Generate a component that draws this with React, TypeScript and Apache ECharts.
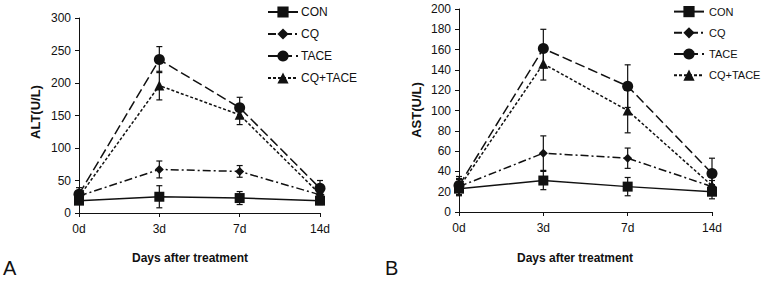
import React, { useEffect, useRef } from "react";
import * as echarts from "echarts";

const days = ["0d", "3d", "7d", "14d"];
const groups = ["CON", "CQ", "TACE", "CQ+TACE"];

const altCON = [19, 25, 23, 19];
const altCONErr = [5, 17, 10, 6];
const altCQ = [26, 67, 64, 28];
const altCQErr = [8, 13, 9, 6];
const altTACE = [29, 236, 162, 38];
const altTACEErr = [10, 20, 16, 12];
const altCQTACE = [25, 196, 151, 29];
const altCQTACEErr = [9, 22, 15, 8];

const astCON = [23, 31, 25, 20];
const astCONErr = [6, 9, 9, 7];
const astCQ = [25, 58, 53, 25];
const astCQErr = [8, 17, 10, 6];
const astTACE = [26, 161, 124, 38];
const astTACEErr = [9, 19, 21, 15];
const astCQTACE = [24, 146, 100, 26];
const astCQTACEErr = [8, 16, 22, 8];

const INK = "#111";
const FONT = "Arial, Liberation Sans, sans-serif";

const styles: Record<string, { symbol: string; size: number; dash: any }> = {
  CON: { symbol: "rect", size: 10, dash: "solid" },
  CQ: { symbol: "diamond", size: 9, dash: [8, 3, 2, 3] },
  TACE: { symbol: "circle", size: 11, dash: [10, 4] },
  "CQ+TACE": { symbol: "triangle", size: 10, dash: [3, 2] },
};

function lineSeries(name: string, data: number[], gi: number) {
  const s = styles[name];
  return {
    type: "line",
    name,
    xAxisIndex: gi,
    yAxisIndex: gi,
    data,
    symbol: s.symbol,
    symbolSize: s.size,
    lineStyle: { color: INK, width: 1.5, type: s.dash },
    itemStyle: { color: INK },
    z: 3,
  };
}

function errSeries(name: string, vals: number[], errs: number[], gi: number) {
  return {
    type: "custom",
    name: name + " SD",
    xAxisIndex: gi,
    yAxisIndex: gi,
    data: vals.map((v, i) => [i, v - errs[i], v + errs[i]]),
    z: 2,
    renderItem: (params: any, api: any) => {
      const lo = api.coord([api.value(0), api.value(1)]);
      const hi = api.coord([api.value(0), api.value(2)]);
      const w = 3;
      const st = { stroke: INK, lineWidth: 1.2 };
      return {
        type: "group",
        children: [
          { type: "line", shape: { x1: lo[0], y1: lo[1], x2: hi[0], y2: hi[1] }, style: st },
          { type: "line", shape: { x1: lo[0] - w, y1: lo[1], x2: lo[0] + w, y2: lo[1] }, style: st },
          { type: "line", shape: { x1: hi[0] - w, y1: hi[1], x2: hi[0] + w, y2: hi[1] }, style: st },
        ],
      };
    },
  };
}

export default function App() {
  const ref = useRef<HTMLDivElement>(null);
  useEffect(() => {
    if (!ref.current) return;
    const chart = echarts.init(ref.current, null, { renderer: "svg" });
    const axisText = { color: INK, fontSize: 12, fontFamily: FONT };
    const xAxisBase = (gi: number) => ({
      type: "category",
      gridIndex: gi,
      data: days,
      boundaryGap: false,
      axisLine: { lineStyle: { color: INK, width: 1 } },
      axisTick: { show: true, length: 4, lineStyle: { color: INK } },
      axisLabel: { ...axisText, margin: 10 },
      splitLine: { show: false },
    });
    const yAxisBase = (gi: number, max: number, interval: number) => ({
      type: "value",
      gridIndex: gi,
      min: 0,
      max,
      interval,
      axisLine: { show: true, lineStyle: { color: INK, width: 1 } },
      axisTick: { show: true, length: 4, lineStyle: { color: INK } },
      axisLabel: { ...axisText, margin: 8 },
      splitLine: { show: false },
    });
    const legendBase = (left: number, fontSize: number, textPad: number) => ({
      orient: "vertical",
      left,
      top: 6,
      padding: 0,
      itemWidth: 30,
      itemHeight: 14,
      itemGap: 10,
      data: groups,
      textStyle: { ...axisText, fontSize, padding: [0, 0, 0, textPad] },
      selectedMode: false,
    });
    const boldText = (size: number) => ({ fill: INK, fontSize: size, fontWeight: "bold", fontFamily: FONT, align: "center", verticalAlign: "middle" });
    chart.setOption({
      animation: false,
      backgroundColor: "#fff",
      grid: [
        { left: 79, top: 18, width: 241, height: 195 },
        { left: 459, top: 9, width: 253, height: 203 },
      ],
      xAxis: [xAxisBase(0), xAxisBase(1)],
      yAxis: [yAxisBase(0, 300, 50), yAxisBase(1, 200, 20)],
      legend: [legendBase(267, 12, -2), legendBase(673, 11, 0)],
      series: [
        errSeries("CON", altCON, altCONErr, 0),
        errSeries("CQ", altCQ, altCQErr, 0),
        errSeries("TACE", altTACE, altTACEErr, 0),
        errSeries("CQ+TACE", altCQTACE, altCQTACEErr, 0),
        lineSeries("CON", altCON, 0),
        lineSeries("CQ", altCQ, 0),
        lineSeries("TACE", altTACE, 0),
        lineSeries("CQ+TACE", altCQTACE, 0),
        errSeries("CON", astCON, astCONErr, 1),
        errSeries("CQ", astCQ, astCQErr, 1),
        errSeries("TACE", astTACE, astTACEErr, 1),
        errSeries("CQ+TACE", astCQTACE, astCQTACEErr, 1),
        lineSeries("CON", astCON, 1),
        lineSeries("CQ", astCQ, 1),
        lineSeries("TACE", astTACE, 1),
        lineSeries("CQ+TACE", astCQTACE, 1),
      ],
      graphic: [
        { type: "text", x: 35, y: 112, rotation: Math.PI / 2, style: { ...boldText(13), text: "ALT(U/L)" } },
        { type: "text", x: 416, y: 110, rotation: Math.PI / 2, style: { ...boldText(13), text: "AST(U/L)" } },
        { type: "text", x: 190, y: 258, style: { ...boldText(12), text: "Days after treatment" } },
        { type: "text", x: 575, y: 258, style: { ...boldText(12), text: "Days after treatment" } },
        { type: "text", x: 3, y: 268, style: { fill: INK, fontSize: 20, fontFamily: FONT, text: "A", verticalAlign: "middle" } },
        { type: "text", x: 385, y: 268, style: { fill: INK, fontSize: 20, fontFamily: FONT, text: "B", verticalAlign: "middle" } },
      ],
    });
    return () => chart.dispose();
  }, []);
  return <div ref={ref} style={{ position: "fixed", left: 0, top: 0, width: 766, height: 282, background: "#fff" }} />;
}
